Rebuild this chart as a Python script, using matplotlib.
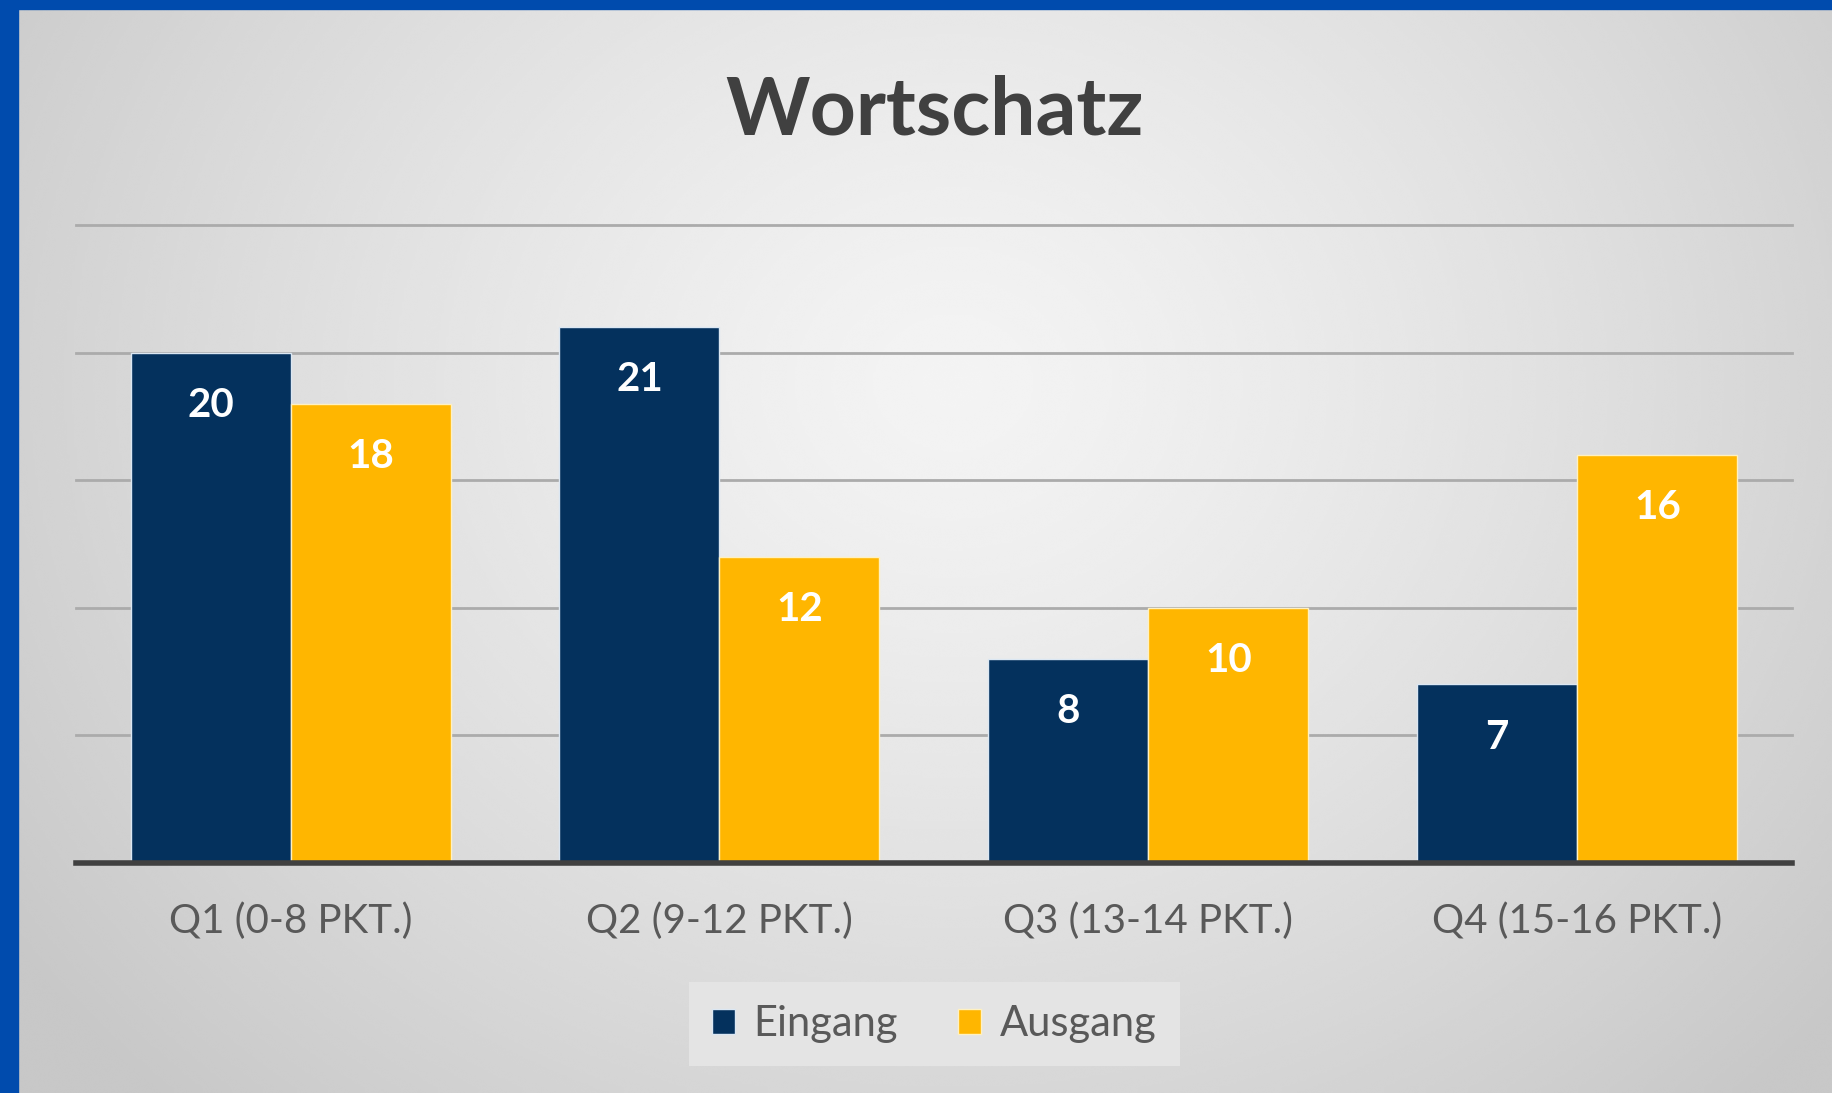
import numpy as np
import matplotlib.pyplot as plt
from matplotlib.patches import Rectangle

# data
categories = ['Q1 (0-8 PKT.)', 'Q2 (9-12 PKT.)', 'Q3 (13-14 PKT.)', 'Q4 (15-16 PKT.)']
eingang = [20, 21, 8, 7]
ausgang = [18, 12, 10, 16]
series_names = ['Eingang', 'Ausgang']

navy = '#04315D'
gold = '#FFB600'
text_gray = '#595959'

plt.rcParams['font.family'] = ['Lato', 'DejaVu Sans']

fig = plt.figure(figsize=(18.33, 10.93), dpi=100)

# radial gray background
bg = fig.add_axes([0, 0, 1, 1], zorder=-10)
yy, xx = np.mgrid[0:1:400j, 0:1:700j]
d = np.sqrt(((xx - 0.52) / 0.62) ** 2 + ((yy - 0.35) / 0.9) ** 2)
d = np.clip(d, 0, 1)
shade = 0.955 - 0.17 * d ** 1.3
bg.imshow(shade, cmap='gray', vmin=0, vmax=1, aspect='auto', extent=[0, 1, 1, 0], interpolation='bicubic')
bg.set_xlim(0, 1)
bg.set_ylim(1, 0)
bg.axis('off')

# blue frame on left and top
fig.patches.append(Rectangle((0, 0), 18 / 1833, 1, transform=fig.transFigure, color='#004BAD', zorder=5))
fig.patches.append(Rectangle((0, 1 - 9 / 1093), 1, 9 / 1093, transform=fig.transFigure, color='#004BAD', zorder=5))

ax = fig.add_axes([0.0415, 0.2104, 0.936, 0.5837])
ax.patch.set_alpha(0)

x = np.arange(len(categories))
w = 0.373
b1 = ax.bar(x - w / 2, eingang, w, color=navy, edgecolor='#dbe7f3', linewidth=1, zorder=2, label=series_names[0])
b2 = ax.bar(x + w / 2, ausgang, w, color=gold, edgecolor='#fff1c0', linewidth=1, zorder=2, label=series_names[1])

for bars in (b1, b2):
    for rect in bars:
        h = rect.get_height()
        ax.annotate(f'{h:.0f}', (rect.get_x() + rect.get_width() / 2, h),
                    xytext=(0, -38), textcoords='offset points', ha='center', va='center',
                    color='white', fontsize=29, fontweight='bold', zorder=3)

ax.set_xlim(-0.5, len(categories) - 0.5)
ax.set_ylim(0, 25)
for v in [5, 10, 15, 20, 25]:
    ax.axhline(v, color='#ababab', linewidth=2, zorder=1, clip_on=False)
ax.axhline(0, color='#404040', linewidth=4, zorder=4, clip_on=False)

ax.set_yticks([])
ax.set_xticks(x)
ax.set_xticklabels(categories, fontsize=29, color=text_gray)
ax.tick_params(axis='x', length=0, pad=28)
for s in ax.spines.values():
    s.set_visible(False)

fig.text(0.5096, 0.898, 'Wortschatz', ha='center', va='center', fontsize=58,
         fontweight='bold', color='#404040')

leg = fig.legend(loc='center', bbox_to_anchor=(0.5096, 0.063), ncol=2, frameon=True,
                 fontsize=30, fancybox=False, handlelength=0.55, handleheight=0.55,
                 handletextpad=0.45, columnspacing=1.45, borderpad=0.55, borderaxespad=0)
leg.get_frame().set_facecolor('#e4e4e4')
leg.get_frame().set_edgecolor('none')
leg.get_frame().set_alpha(1)
for t in leg.get_texts():
    t.set_color(text_gray)

fig.savefig('out.png', dpi=100)
